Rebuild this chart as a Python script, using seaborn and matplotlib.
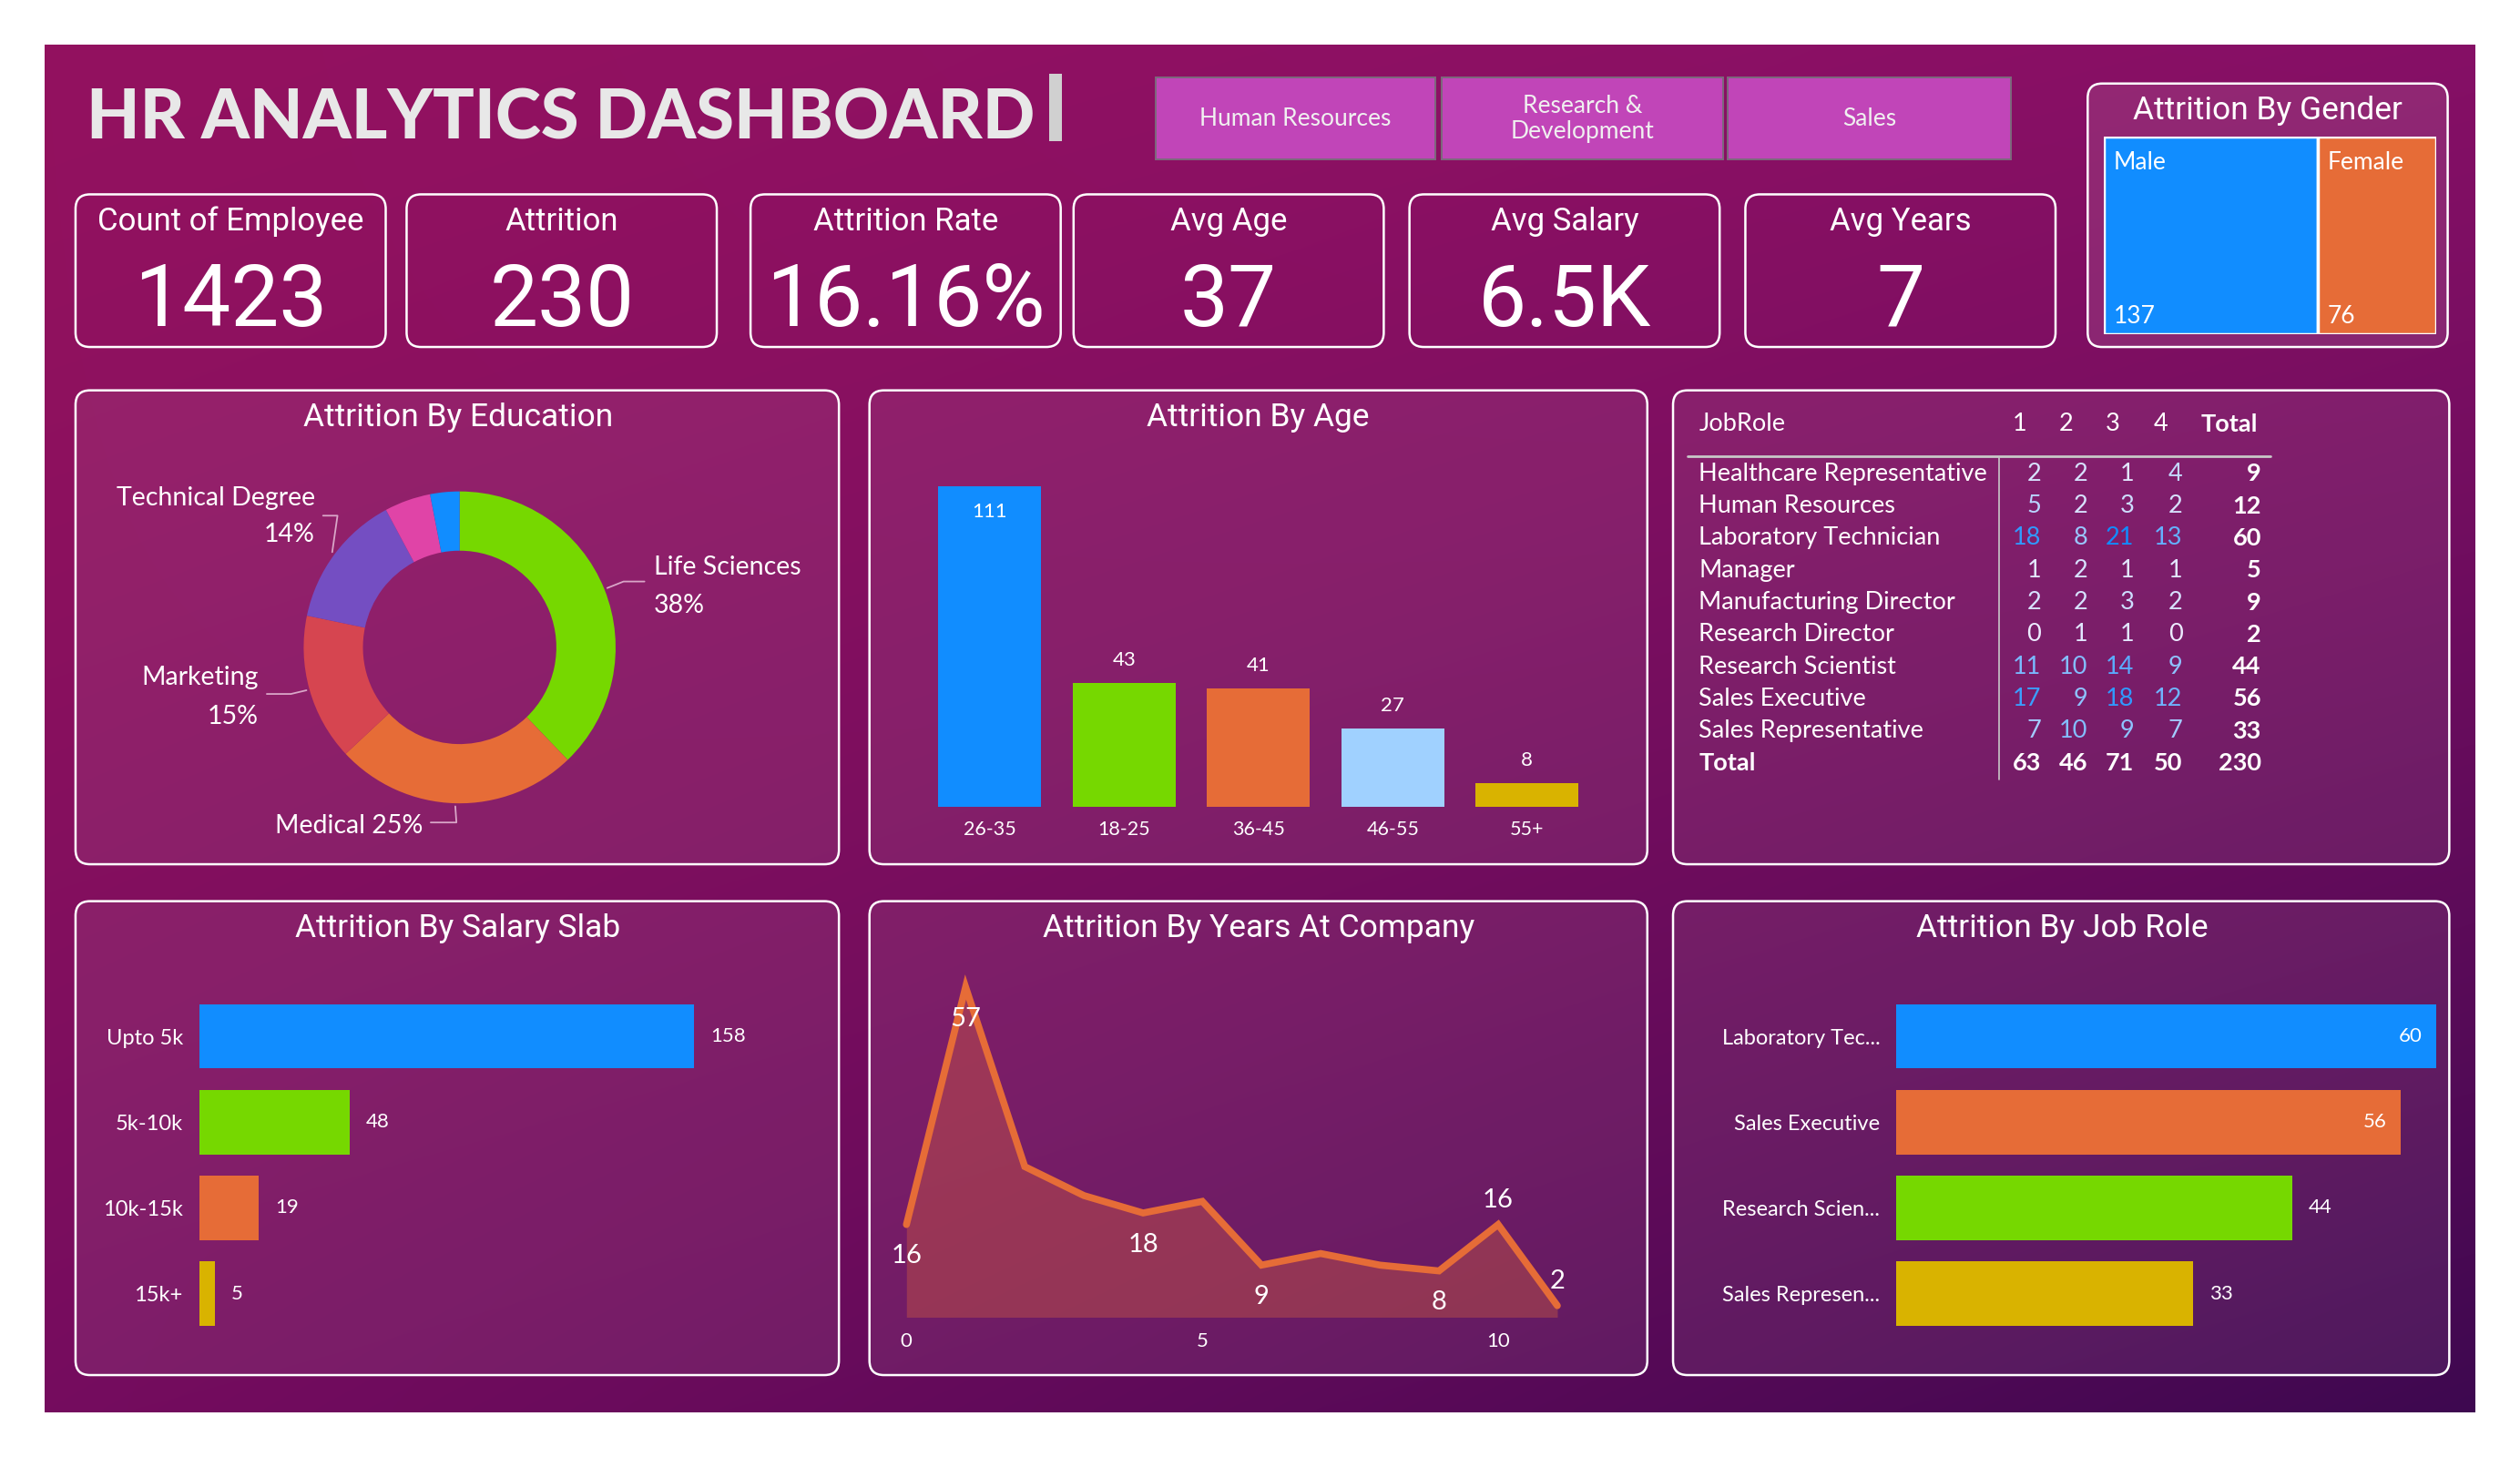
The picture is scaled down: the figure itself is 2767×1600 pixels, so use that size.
import numpy as np
import pandas as pd
import matplotlib
matplotlib.use("Agg")
import matplotlib.pyplot as plt
import seaborn as sns
from matplotlib import font_manager
from matplotlib.patches import FancyBboxPatch
from matplotlib.colors import LinearSegmentedColormap, to_rgb

# ---------------- data ----------------
departments = ["Human Resources", "Research &\nDevelopment", "Sales"]
kpi_titles = ["Count of Employee", "Attrition", "Attrition Rate", "Avg Age", "Avg Salary", "Avg Years"]
kpi_values = ["1423", "230", "16.16%", "37", "6.5K", "7"]

gender = ["Male", "Female"]
gender_attrition = [137, 76]

education = ["Life Sciences", "Medical", "Marketing", "Technical Degree", "Other", "Human Resources"]
education_attrition = [87, 58, 35, 32, 11, 7]

age_groups = ["26-35", "18-25", "36-45", "46-55", "55+"]
age_attrition = [111, 43, 41, 27, 8]

job_roles = ["Healthcare Representative", "Human Resources", "Laboratory Technician", "Manager",
             "Manufacturing Director", "Research Director", "Research Scientist",
             "Sales Executive", "Sales Representative"]
satisfaction_levels = ["1", "2", "3", "4"]
level_1 = [2, 5, 18, 1, 2, 0, 11, 17, 7]
level_2 = [2, 2, 8, 2, 2, 1, 10, 9, 10]
level_3 = [1, 3, 21, 1, 3, 1, 14, 18, 9]
level_4 = [4, 2, 13, 1, 2, 0, 9, 12, 7]

salary_slabs = ["Upto 5k", "5k-10k", "10k-15k", "15k+"]
salary_attrition = [158, 48, 19, 5]

years_at_company = list(range(12))
years_attrition = [16, 57, 26, 21, 18, 20, 9, 11, 9, 8, 16, 2]
years_labelled = [0, 1, 4, 6, 9, 10, 11]

top_roles = ["Laboratory Tec...", "Sales Executive", "Research Scien...", "Sales Represen..."]
top_roles_attrition = [60, 56, 44, 33]

# ---------------- style ----------------
BLUE, GREEN, ORANGE, RED = "#118DFF", "#76D800", "#E66C37", "#D64550"
PURPLE, PINK, LIGHTBLUE, YELLOW = "#744EC2", "#E044A7", "#A0D1FF", "#D9B300"

sns.set_theme(style="white")
plt.rcParams["font.family"] = ["Lato", "DejaVu Sans"]
names = {f.name for f in font_manager.fontManager.ttflist}
LABEL = "Lato"
HEAD = "Roboto"
BIG = "Liberation Sans Narrow" if "Liberation Sans Narrow" in names else "Roboto"

W, H = 1568, 907  # layout grid


def frac(x0, y0, x1, y1):
    return [x0 / W, 1 - y1 / H, (x1 - x0) / W, (y1 - y0) / H]


fig = plt.figure(figsize=(27.67, 16.0), dpi=100)
fig.patch.set_facecolor("white")
bg = fig.add_axes([0, 0, 1, 1])
bg.axis("off")

# background gradient
ny, nx = 200, 340
ty = np.linspace(0, 1, ny)[:, None, None]
tx = np.linspace(0, 1, nx)[None, :, None]
top = (1 - tx) * np.array(to_rgb("#93125F")) + tx * np.array(to_rgb("#8E1068"))
bottom = (1 - tx) * np.array(to_rgb("#6A0A5E")) + tx * np.array(to_rgb("#3E0850"))
w = np.clip(0.8 * ty + 0.2 * tx, 0, 1) ** 1.4
grad = (1 - w) * top + w * bottom
bg.imshow(grad, extent=(28, 1540, 879, 28), aspect="auto", zorder=0, interpolation="bilinear")
bg.set_xlim(0, W)
bg.set_ylim(H, 0)


def put(x, y, s, size, ha="center", va="center", family=LABEL, weight="normal", color="white", **kw):
    return bg.text(x, y, s, fontsize=size, ha=ha, va=va, family=family, fontweight=weight,
                   color=color, zorder=6, **kw)


def card(x0, y0, x1, y1, alpha=0.0, r=9):
    bg.add_patch(FancyBboxPatch((x0, y0), x1 - x0, y1 - y0,
                                boxstyle=f"round,pad=0,rounding_size={r}",
                                fc=(1, 1, 1, alpha), ec="white", lw=1.8, zorder=2))


def clean(ax):
    ax.set_facecolor("none")
    for s in ax.spines.values():
        s.set_visible(False)
    ax.set_xlabel("")
    ax.set_ylabel("")
    ax.tick_params(length=0, colors="white")


# ---------------- header ----------------
put(54, 74, "HR ANALYTICS DASHBOARD", 54.5, ha="left", weight="black", color="#E8E8E8")
bg.add_patch(plt.Rectangle((653, 46), 8, 42, fc="#D0D0D0", ec="none", zorder=3))

btn_x = [(719, 893), (897, 1072), (1075, 1251)]
for (x0, x1), d in zip(btn_x, departments):
    bg.add_patch(plt.Rectangle((x0, 48), x1 - x0, 51, fc="#C145B8", ec="#7C6A7C", lw=1.4, zorder=3))
    put((x0 + x1) / 2, 74, d, 19, color="#F0F0F0", linespacing=1.15)

# KPI cards
kpi_x = [(47, 240), (253, 446), (467, 660), (668, 861), (877, 1070), (1086, 1279)]
for (x0, x1), t, v in zip(kpi_x, kpi_titles, kpi_values):
    card(x0, 121, x1, 216)
    put((x0 + x1) / 2, 138, t, 25, family=HEAD)
    put((x0 + x1) / 2, 188, v, 68, family=BIG)

# gender card + treemap
card(1299, 52, 1523, 216, alpha=0.1)
put(1411, 69, "Attrition By Gender", 25.5, family=HEAD)
ax = fig.add_axes(frac(1309, 85, 1516, 208))
lefts = np.concatenate([[0], np.cumsum(gender_attrition)[:-1]])
ax.barh([0, 0], gender_attrition, left=lefts, height=1, color=[BLUE, ORANGE],
        edgecolor="white", linewidth=2.5)
tot = sum(gender_attrition)
ax.set_xlim(0, tot)
ax.set_ylim(-0.5, 0.5)
clean(ax)
ax.set_xticks([])
ax.set_yticks([])
for l, g, v in zip(lefts, gender, gender_attrition):
    ax.text(l + 0.03 * tot, 0.37, g, color="white", fontsize=19, va="center", ha="left")
    ax.text(l + 0.03 * tot, -0.41, str(v), color="white", fontsize=19, va="center", ha="left")

# ---------------- panels ----------------
cols = [(47, 522), (541, 1025), (1041, 1524)]
for y0, y1 in [(243, 538), (561, 856)]:
    for x0, x1 in cols:
        card(x0, y0, x1, y1, alpha=0.07)

for x, y, t in [(285, 260, "Attrition By Education"), (783, 260, "Attrition By Age"),
                (285, 578, "Attrition By Salary Slab"), (783, 578, "Attrition By Years At Company"),
                (1283, 578, "Attrition By Job Role")]:
    put(x, y, t, 25.5, family=HEAD)

# donut
edu_colors = [GREEN, ORANGE, RED, PURPLE, PINK, BLUE]
ax = fig.add_axes(frac(186, 303, 386, 503))
ax.pie(education_attrition, colors=edu_colors, startangle=90, counterclock=False,
       radius=1, wedgeprops=dict(width=0.38, linewidth=0))
ax.set_xlim(-1.03, 1.03)
ax.set_ylim(-1.03, 1.03)
cx, cy, rr = 286, 403, 99
share = np.array(education_attrition) / sum(education_attrition)
mids = np.cumsum(share) - share / 2
elbows = {0: (388, 362, 401), 1: (284, 512, 268), 2: (181, 432, 166), 3: (210, 321, 201)}
for i, (ex, ey, endx) in elbows.items():
    th = np.deg2rad(90 - 360 * mids[i])
    sx, sy = cx + rr * np.cos(th), cy - rr * np.sin(th)
    bg.plot([sx, ex, endx], [sy, ey, ey], color="#D9A6C8", lw=1.3, zorder=5)
pct = [f"{round(s * 100):.0f}%" for s in share]
fs = 20.5
put(407, 353, education[0], fs, ha="left")
put(407, 377, pct[0], fs, ha="left")
put(263, 514, f"{education[1]} {pct[1]}", fs, ha="right")
put(161, 422, education[2], fs, ha="right")
put(161, 446, pct[2], fs, ha="right")
put(196, 310, education[3], fs, ha="right")
put(196, 333, pct[3], fs, ha="right")

# age bars
ax = fig.add_axes(frac(574, 280, 992, 502))
sns.barplot(x=age_groups, y=age_attrition, hue=age_groups, palette=[BLUE, GREEN, ORANGE, LIGHTBLUE, YELLOW],
            legend=False, width=0.766, saturation=1, errorbar=None, linewidth=0, ax=ax)
ax.set_xlim(-0.5, 4.5)
ax.set_ylim(0, 123.8)
clean(ax)
ax.set_yticks([])
ax.tick_params(axis="x", pad=11, labelsize=15.5)
for i, v in enumerate(age_attrition):
    off = -20 if v == max(age_attrition) else 18
    ax.annotate(str(v), (i, v), xytext=(0, off), textcoords="offset points",
                ha="center", va="center", color="white", fontsize=16)

# matrix table
ts = 19.5
put(1057, 264, "JobRole", ts, ha="left")
hdr_x = [1252, 1281, 1310, 1340]
val_x = [1270, 1299, 1328, 1358]
for x, s in zip(hdr_x, satisfaction_levels):
    put(x, 264, s, ts, ha="left")
put(1405, 264, "Total", ts, ha="right", weight="bold")
bg.plot([1050, 1413], [284, 284], color="#C8C8C8", lw=2, zorder=5)
bg.plot([1244, 1244], [285, 485], color="#C8C8C8", lw=1.2, zorder=5)
table = pd.DataFrame({"1": level_1, "2": level_2, "3": level_3, "4": level_4}, index=job_roles)
cmap = LinearSegmentedColormap.from_list("cf", ["#ECEBFF", "#118DFF"])
vmax = table.values.max()
row_y = [295 + 20 * i for i in range(len(job_roles) + 1)]
for y, (role, row) in zip(row_y, table.iterrows()):
    put(1057, y, role, ts, ha="left")
    for x, v in zip(val_x, row.values):
        put(x, y, str(v), ts, ha="right", color=cmap(v / vmax))
    put(1407, y, str(row.sum()), ts, ha="right", weight="bold")
put(1057, row_y[-1], "Total", ts, ha="left", weight="bold")
for x, v in zip(val_x, table.sum().values):
    put(x, row_y[-1], str(v), ts, ha="right", weight="bold")
put(1407, row_y[-1], str(table.values.sum()), ts, ha="right", weight="bold")

# salary slab bars
ax = fig.add_axes(frac(124, 618.5, 505, 832))
sns.barplot(y=salary_slabs, x=salary_attrition, hue=salary_slabs, palette=[BLUE, GREEN, ORANGE, YELLOW],
            orient="h", legend=False, width=0.75, saturation=1, errorbar=None, linewidth=0, ax=ax)
ax.set_xlim(0, 195.5)
ax.set_ylim(3.5, -0.5)
clean(ax)
ax.set_xticks([])
ax.tick_params(axis="y", pad=13, labelsize=17)
for i, v in enumerate(salary_attrition):
    ax.annotate(str(v), (v, i), xytext=(13, 0), textcoords="offset points",
                ha="left", va="center", color="white", fontsize=16)

# years at company
ax = fig.add_axes(frac(564, 600, 969, 820))
sns.lineplot(x=years_at_company, y=years_attrition, color=ORANGE, linewidth=5.5, ax=ax)
ax.lines[0].set_clip_on(False)
ax.lines[0].set_solid_joinstyle("miter")
ax.fill_between(years_at_company, years_attrition, color=ORANGE, alpha=0.32, lw=0)
ax.set_xlim(0, 11)
ax.set_ylim(0, 61)
clean(ax)
ax.set_yticks([])
ax.set_xticks([0, 5, 10])
ax.tick_params(axis="x", pad=12, labelsize=16)
for i in years_labelled:
    v = years_attrition[i]
    off = 19 if i >= 10 else -25
    ax.annotate(str(v), (i, v), xytext=(0, off), textcoords="offset points",
                ha="center", va="center", color="white", fontsize=21)

# job role bars
ax = fig.add_axes(frac(1180, 618.5, 1516, 832))
sns.barplot(y=top_roles, x=top_roles_attrition, hue=top_roles, palette=[BLUE, ORANGE, GREEN, YELLOW],
            orient="h", legend=False, width=0.75, saturation=1, errorbar=None, linewidth=0, ax=ax)
ax.set_xlim(0, 60)
ax.set_ylim(3.5, -0.5)
clean(ax)
ax.set_xticks([])
ax.tick_params(axis="y", pad=13, labelsize=17)
for i, v in enumerate(top_roles_attrition):
    inside = v > 0.85 * max(top_roles_attrition)
    ax.annotate(str(v), (v, i), xytext=(-11 if inside else 13, 0), textcoords="offset points",
                ha="right" if inside else "left", va="center", color="white", fontsize=16)

fig.savefig("out.png", dpi=100, facecolor="white")
